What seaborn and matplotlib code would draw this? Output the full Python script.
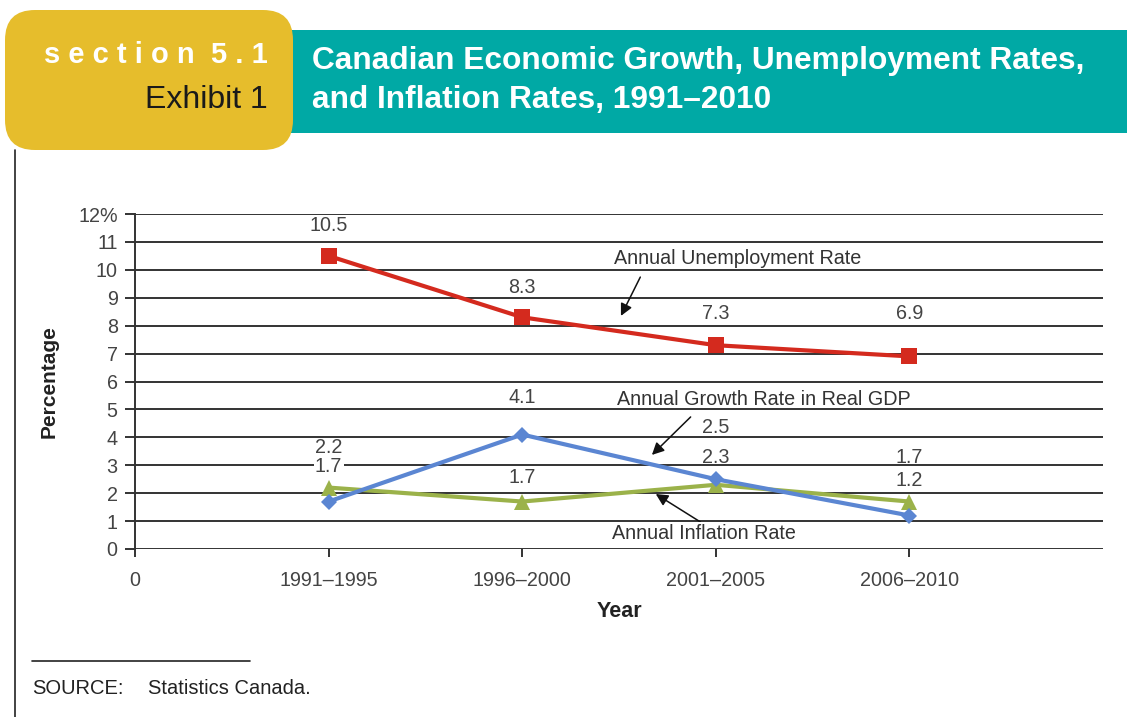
import matplotlib
matplotlib.use("Agg")
import matplotlib.pyplot as plt
import seaborn as sns
import pandas as pd
from matplotlib.patches import FancyBboxPatch, Rectangle
from matplotlib.lines import Line2D

# ---- data ----
periods = ["1991–1995", "1996–2000", "2001–2005", "2006–2010"]
unemployment = [10.5, 8.3, 7.3, 6.9]
gdp_growth = [1.7, 4.1, 2.5, 1.2]
inflation = [2.2, 1.7, 2.3, 1.7]
y_ticks = [0, 1, 2, 3, 4, 5, 6, 7, 8, 9, 10, 11, 12]
y_tick_labels = ["0", "1", "2", "3", "4", "5", "6", "7", "8", "9", "10", "11", "12%"]
x_tick_labels = ["0"] + periods

sns.set_theme(style="white")
plt.rcParams["font.family"] = ["Liberation Sans", "DejaVu Sans"]

W, H = 1127, 717
fig = plt.figure(figsize=(W / 100, H / 100), dpi=100)
fig.patch.set_facecolor("white")

def fy(ytop):
    return H - ytop

# ---- header ----
teal = "#00A9A5"
yellow = "#E6BD2C"
fig.patches.append(Rectangle((270, fy(133)), W - 270, 103, transform=None,
                             facecolor=teal, edgecolor="none", zorder=1))
fig.patches.append(FancyBboxPatch((5 + 30, fy(150) + 30), 288 - 60, 140 - 60,
                                  boxstyle="round,pad=30", transform=None,
                                  facecolor=yellow, edgecolor="none", zorder=2))
fig.text(268 / W, 1 - 55 / H, "s e c t i o n  5 . 1", color="white", fontsize=21,
         fontweight="bold", ha="right", va="center", zorder=3)
fig.text(268 / W, 1 - 100 / H, "Exhibit 1", color="#1a1a1a", fontsize=23,
         ha="right", va="center", zorder=3)
fig.text(312 / W, 1 - 61 / H, "Canadian Economic Growth, Unemployment Rates,",
         color="white", fontsize=22.8, fontweight="bold", ha="left", va="center", zorder=3)
fig.text(312 / W, 1 - 100 / H, "and Inflation Rates, 1991–2010",
         color="white", fontsize=22.8, fontweight="bold", ha="left", va="center", zorder=3)

# left frame line and source
fig.add_artist(Line2D([15 / W, 15 / W], [0, 1 - 150 / H], color="#222222", lw=1.2))
fig.add_artist(Line2D([32 / W, 250 / W], [1 - 661 / H, 1 - 661 / H], color="#222222", lw=1.2))
fig.text(32 / W, 1 - 688 / H, "SOURCE:", fontsize=14.5,
         color="#222222", ha="left", va="center")
fig.text(148 / W, 1 - 688 / H, "Statistics Canada.", fontsize=14.5,
         color="#222222", ha="left", va="center")

# ---- chart ----
ax = fig.add_axes([135 / W, (H - 549) / H, 968 / W, 335 / H])
df = pd.DataFrame({
    "pos": [1, 2, 3, 4] * 3,
    "value": unemployment + gdp_growth + inflation,
    "series": ["Unemployment"] * 4 + ["GDP"] * 4 + ["Inflation"] * 4,
})
palette = {"Unemployment": "#D42A1E", "GDP": "#5B86D2", "Inflation": "#9BB24A"}
markers = {"Unemployment": "s", "GDP": "D", "Inflation": "^"}
sizes = {"Unemployment": 11, "GDP": 8, "Inflation": 11}
for s in ["Inflation", "GDP", "Unemployment"]:
    sub = df[df["series"] == s]
    sns.lineplot(data=sub, x="pos", y="value", ax=ax, color=palette[s], lw=3.0,
                 marker=markers[s], markersize=sizes[s], markeredgewidth=0,
                 zorder=5, legend=False)

FS = 14.2
ax.set_xlim(0, 5)
ax.set_ylim(0, 12)
ax.set_yticks(y_ticks)
ax.set_yticklabels(y_tick_labels)
ax.set_xticks([0, 1, 2, 3, 4])
ax.set_xticklabels(x_tick_labels)
ax.yaxis.grid(True, color="#333333", lw=1.4, zorder=0)
ax.set_axisbelow(True)
for sp in ["top", "right", "bottom"]:
    ax.spines[sp].set_visible(False)
ax.spines["left"].set_color("#333333")
ax.spines["left"].set_linewidth(1.4)
ax.tick_params(axis="y", length=7.5, width=1.4, color="#333333", pad=5,
               labelsize=FS, labelcolor="#444444", left=True)
ax.tick_params(axis="x", length=6, width=1.4, color="#333333", pad=10,
               labelsize=FS, labelcolor="#444444", bottom=True)
ax.set_xlabel("Year", fontsize=15.5, fontweight="bold", color="#222222", labelpad=8)
ax.set_ylabel("Percentage", fontsize=15, fontweight="bold", color="#222222", labelpad=14)

# data labels (offsets in points)
lab = dict(fontsize=FS, color="#444444", ha="center", va="center", zorder=6)
unemp_off = [22, 21.5, 23, 31]
for i, v in enumerate(unemployment):
    ax.annotate(f"{v}", (i + 1, v), xytext=(0, unemp_off[i]),
                textcoords="offset points", **lab)
ax.annotate(f"{inflation[0]}", (1, inflation[0]), xytext=(0, 29), textcoords="offset points", **lab)
ax.annotate(f"{gdp_growth[0]}", (1, gdp_growth[0]), xytext=(0, 25), textcoords="offset points",
            bbox=dict(facecolor="white", edgecolor="none", pad=1), **lab)
ax.annotate(f"{gdp_growth[1]}", (2, gdp_growth[1]), xytext=(0, 27), textcoords="offset points", **lab)
ax.annotate(f"{inflation[1]}", (2, inflation[1]), xytext=(0, 17), textcoords="offset points", **lab)
ax.annotate(f"{gdp_growth[2]}", (3, gdp_growth[2]), xytext=(0, 37), textcoords="offset points", **lab)
ax.annotate(f"{inflation[2]}", (3, inflation[2]), xytext=(0, 20), textcoords="offset points", **lab)
ax.annotate(f"{inflation[3]}", (4, inflation[3]), xytext=(0, 32), textcoords="offset points", **lab)
ax.annotate(f"{gdp_growth[3]}", (4, gdp_growth[3]), xytext=(0, 25), textcoords="offset points", **lab)

# series annotations with arrows
arrow = dict(arrowstyle="-|>", color="#111111", lw=1.1, mutation_scale=18, shrinkA=0, shrinkB=0)
ax.annotate("", xy=(2.51, 8.35), xytext=(2.61, 9.74), arrowprops=arrow, zorder=6)
ax.text(3.115, 10.39, "Annual Unemployment Rate", fontsize=FS, color="#333333",
        ha="center", va="center", zorder=6)
ax.annotate("", xy=(2.67, 3.37), xytext=(2.87, 4.73), arrowprops=arrow, zorder=6)
ax.text(3.25, 5.34, "Annual Growth Rate in Real GDP", fontsize=FS, color="#333333",
        ha="center", va="center", zorder=6)
ax.annotate("", xy=(2.69, 1.97), xytext=(2.92, 0.97), arrowprops=arrow, zorder=6)
ax.text(2.94, 0.57, "Annual Inflation Rate", fontsize=FS, color="#333333",
        ha="center", va="center", zorder=6,
        bbox=dict(facecolor="white", edgecolor="none", pad=1))

fig.savefig("out.png", dpi=100)
